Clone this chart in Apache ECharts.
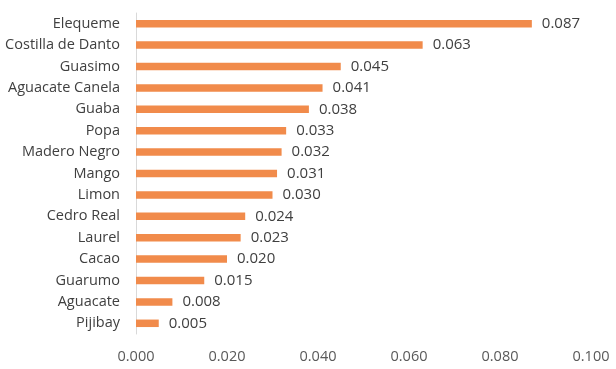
<!DOCTYPE html>
<html><head><meta charset="utf-8">
<script src="https://cdn.jsdelivr.net/npm/echarts@6/dist/echarts.min.js"></script>
<style>html,body{margin:0;padding:0;background:#fff}#c{width:616px;height:369px}</style>
</head><body><div id="c"></div>
<script>
const categories = ["Elequeme","Costilla de Danto","Guasimo","Aguacate Canela","Guaba","Popa","Madero Negro","Mango","Limon","Cedro Real","Laurel","Cacao","Guarumo","Aguacate","Pijibay"];
const values = [0.087,0.063,0.045,0.041,0.038,0.033,0.032,0.031,0.030,0.024,0.023,0.020,0.015,0.008,0.005];
const xTicks = {min:0, max:0.1, interval:0.02};
const chart = echarts.init(document.getElementById('c'), null, {renderer:'canvas'});
chart.setOption({
  animation:false,
  grid:{left:136, right:25, top:13, bottom:35, containLabel:false},
  xAxis:{type:'value', min:xTicks.min, max:xTicks.max, interval:xTicks.interval,
    axisLine:{show:false}, axisTick:{show:false}, splitLine:{show:false},
    axisLabel:{formatter:v=>v.toFixed(3), color:'#595959', fontFamily:'Open Sans', fontSize:14.5, margin:15}},
  yAxis:{type:'category', data:categories, inverse:true,
    axisLine:{show:true, lineStyle:{color:'#D9D9D9'}}, axisTick:{show:false},
    axisLabel:{color:'#404040', fontFamily:'Open Sans', fontSize:14.5, margin:16}},
  series:[{type:'bar', data:values, barWidth:7.5, itemStyle:{color:'#F18B4B'},
    label:{show:true, position:'right', distance:10, formatter:p=>p.value.toFixed(3), color:'#404040', fontFamily:'Open Sans', fontSize:15}}]
});
</script></body></html>
